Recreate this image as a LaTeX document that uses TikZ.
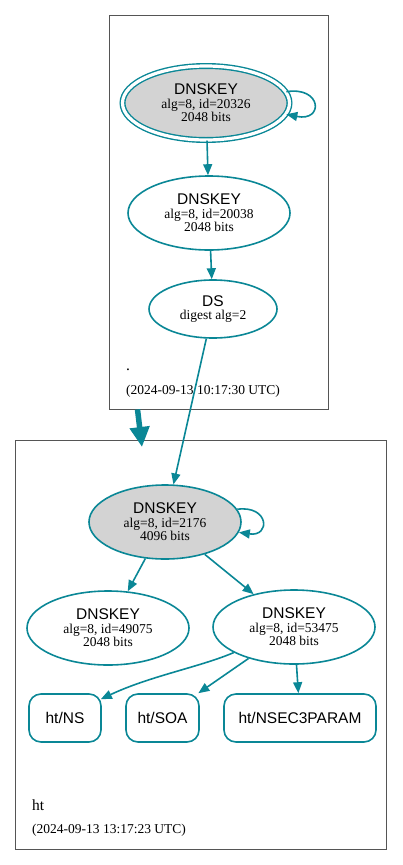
\documentclass[tikz,border=0pt]{standalone}
\usepackage{fontspec}
\setmainfont{Liberation Serif}
\setsansfont{Liberation Sans}
\usetikzlibrary{arrows.meta,shapes.geometric}
\definecolor{edgec}{HTML}{0A8796}
\definecolor{fillc}{HTML}{D3D3D3}
\definecolor{zonec}{HTML}{555555}
\tikzset{
  keynode/.style={ellipse, draw=edgec, line width=1.6pt, inner sep=0pt,
    align=center, font=\fontsize{13.5}{13.5}\selectfont},
  zone/.style={rectangle, draw=zonec, line width=0.8pt, inner sep=0pt},
  rrbox/.style={rectangle, rounded corners=12pt, draw=edgec, line width=1.6pt,
    inner sep=0pt, minimum height=48pt, font=\sffamily\fontsize{15.5}{15.5}\selectfont},
  conn/.style={draw=edgec, line width=1.6pt, -{Triangle[length=11pt,width=9pt]}},
  bigconn/.style={draw=edgec, line width=5.5pt, -{Triangle[length=20pt,width=19pt]}},
  zlabel/.style={anchor=base west, inner sep=0pt, font=\fontsize{13.5}{13.5}\selectfont},
  zname/.style={anchor=base west, inner sep=0pt, font=\fontsize{15.5}{15.5}\selectfont},
}
\newcommand{\kname}{{\sffamily\fontsize{15.5}{13.5}\selectfont DNSKEY}}
\begin{document}
\begin{tikzpicture}[x=1pt,y=-1pt]
\useasboundingbox (0,0) rectangle (403,865);
% zones
\node[zone, minimum width=219pt, minimum height=394pt] (topzone) at (218.5,212) {};
\node[zone, minimum width=371pt, minimum height=409pt] (botzone) at (200.5,644.5) {};
\node[zname] (tzn) at (126,370) {.};
\node[zlabel] (tzt) at (126,394) {(2024-09-13 10:17:30 UTC)};
\node[zname] (bzn) at (32,810) {ht};
\node[zlabel] (bzt) at (32,833) {(2024-09-13 13:17:23 UTC)};
% keys
\node[keynode, fill=fillc, double=white, double distance=3.2pt, line width=1.4pt,
  minimum width=167pt, minimum height=74pt] (k1) at (206,103)
  {\kname\\alg=8, id=20326\\2048 bits};
\node[keynode, minimum width=162pt, minimum height=74pt] (k2) at (209,213)
  {\kname\\alg=8, id=20038\\2048 bits};
\node[keynode, minimum width=128pt, minimum height=58pt] (ds) at (213,309)
  {{\sffamily\fontsize{15.5}{13.5}\selectfont DS}\\digest alg=2};
\node[keynode, fill=fillc, minimum width=152pt, minimum height=74pt] (k4) at (165,522)
  {\kname\\alg=8, id=2176\\4096 bits};
\node[keynode, minimum width=162pt, minimum height=74pt] (k5) at (108,628)
  {\kname\\alg=8, id=49075\\2048 bits};
\node[keynode, minimum width=162pt, minimum height=74pt] (k6) at (294,627)
  {\kname\\alg=8, id=53475\\2048 bits};
% records
\node[rrbox, minimum width=72pt] (ns) at (65,718) {ht/NS};
\node[rrbox, minimum width=73pt] (soa) at (162.5,718) {ht/SOA};
\node[rrbox, minimum width=152pt] (n3p) at (300,718) {ht/NSEC3PARAM};
\coordinate (ztip) at (142,447);
% connectors
\draw[conn] (k1.8) .. controls (322,86) and (324,122) .. (k1.-8);
\draw[conn] (k1) -- (k2);
\draw[conn] (k2) -- (ds);
\draw[conn] (ds) -- (k4);
\draw[bigconn] ([xshift=-81pt]topzone.south) -- (ztip);
\draw[conn] (k4.10) .. controls (269,505) and (271,537) .. (k4.-8);
\draw[conn] (k4) -- (k5);
\draw[conn] (k4) -- (k6);
\draw[conn] (k6.203) .. controls (200,667) and (150,676) .. ([xshift=-1pt,yshift=-6pt]ns.north east);
\draw[conn] (k6) -- (soa);
\draw[conn] (k6) -- (n3p);
\end{tikzpicture}
\end{document}
